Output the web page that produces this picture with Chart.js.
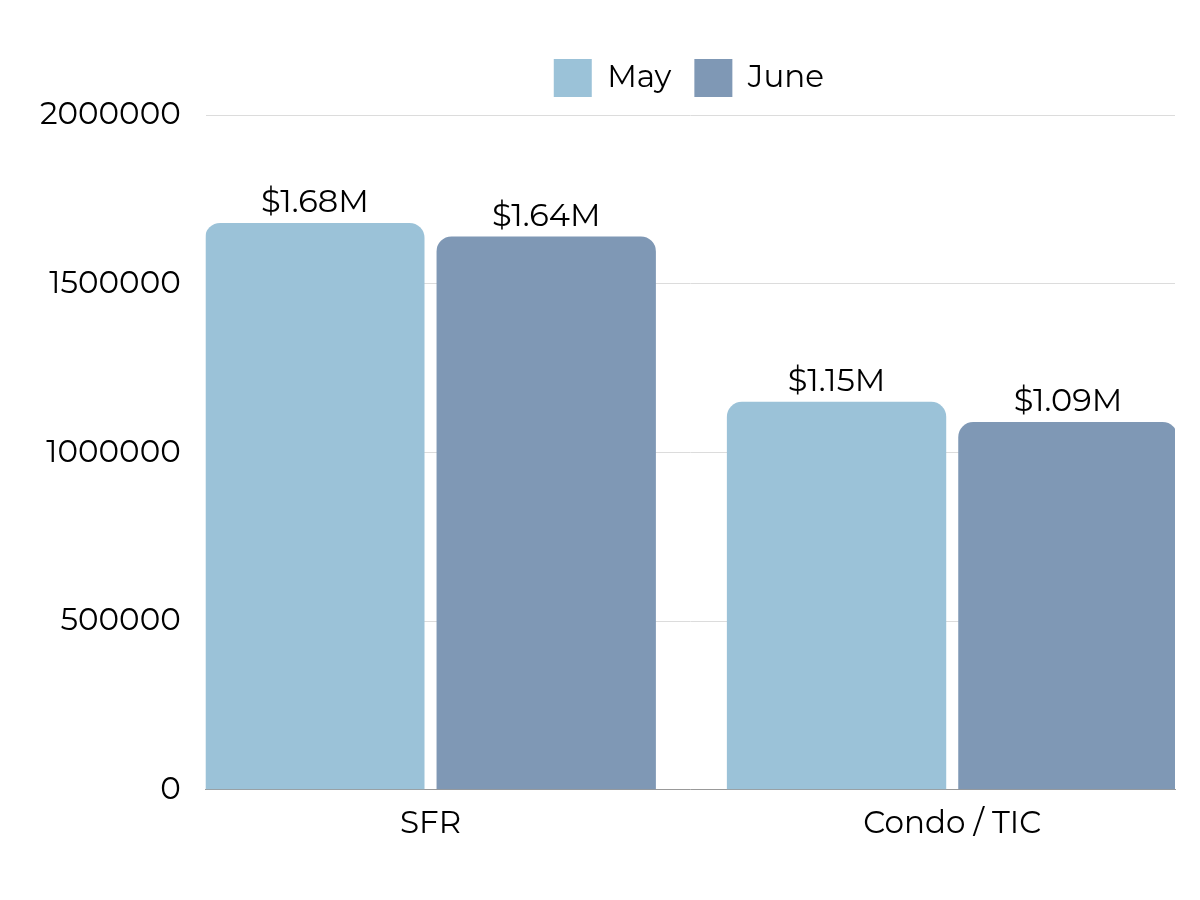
<!DOCTYPE html>
<html>
<head>
<meta charset="utf-8">
<script src="https://cdn.jsdelivr.net/npm/chart.js@4"></script>
<style>
  html, body { margin: 0; padding: 0; background: #fff; }
  #wrap { width: 1200px; height: 900px; }
</style>
</head>
<body>
<div id="wrap"><canvas id="priceChart"></canvas></div>
<script>
const categories = ['SFR', 'Condo / TIC'];
const seriesNames = ['May', 'June'];
const mayValues = [1680000, 1150000];
const juneValues = [1640000, 1090000];
const yTicks = [0, 500000, 1000000, 1500000, 2000000];

const fontFamily = "Montserrat, 'Open Sans', 'Noto Sans', sans-serif";
Chart.defaults.font.family = fontFamily;
Chart.defaults.color = '#000';

// draws the "$1.68M" labels above each bar
const valueLabels = {
    id: 'valueLabels',
    afterDatasetsDraw(chart) {
        const ctx = chart.ctx;
        ctx.save();
        ctx.font = '32px ' + fontFamily;
        ctx.fillStyle = '#000';
        ctx.textAlign = 'center';
        ctx.textBaseline = 'bottom';
        chart.data.datasets.forEach((ds, i) => {
            chart.getDatasetMeta(i).data.forEach((bar, j) => {
                const v = ds.data[j].y;
                ctx.fillText('$' + (v / 1e6).toFixed(2) + 'M', bar.x, bar.y - 4);
            });
        });
        ctx.restore();
    }
};

// extra room under the legend, and centre it over the plot area
const legendPlace = {
    id: 'legendPlace',
    beforeInit(chart) {
        const fit = chart.legend.fit;
        chart.legend.fit = function () {
            fit.call(this);
            this.height += 8;
        };
    },
    afterLayout(chart) {
        chart.legend.left = chart.chartArea.left - 3;
    }
};

const toPoints = arr => arr.map((v, i) => ({ x: i, y: v }));

const ctx = document.getElementById('priceChart').getContext('2d');
const priceChart = new Chart(ctx, {
    type: 'bar',
    data: {
        datasets: [{
            label: seriesNames[0],
            data: toPoints(mayValues),
            backgroundColor: '#9bc2d8'
        }, {
            label: seriesNames[1],
            data: toPoints(juneValues),
            backgroundColor: '#7f98b5'
        }]
    },
    options: {
        responsive: true,
        maintainAspectRatio: false,
        animation: false,
        layout: { padding: { left: 15, right: 25, top: 36, bottom: 51 } },
        datasets: {
            bar: {
                categoryPercentage: 0.887,
                barPercentage: 0.948,
                borderRadius: { topLeft: 15, topRight: 15 },
                borderSkipped: 'bottom'
            }
        },
        plugins: {
            legend: {
                position: 'top',
                labels: {
                    boxWidth: 38,
                    boxHeight: 38,
                    padding: 23,
                    font: { size: 31 }
                }
            },
            tooltip: { enabled: false }
        },
        scales: {
            x: {
                type: 'linear',
                bounds: 'data',
                offset: false,
                min: -0.431,
                max: 1.427,
                grid: { display: false },
                border: { display: true, color: '#999' },
                afterBuildTicks: axis => { axis.ticks = categories.map((c, i) => ({ value: i })); },
                ticks: {
                    autoSkip: false,
                    maxRotation: 0,
                    padding: 7,
                    font: { size: 31 },
                    callback: v => categories[v]
                }
            },
            y: {
                min: 0,
                max: 2000000,
                grid: { color: '#dcdcdc', drawTicks: false },
                border: { display: false },
                afterBuildTicks: axis => { axis.ticks = yTicks.map(v => ({ value: v })); },
                ticks: {
                    padding: 25,
                    font: { size: 31 },
                    callback: v => String(v)
                }
            }
        }
    },
    plugins: [valueLabels, legendPlace]
});
</script>
</body>
</html>
